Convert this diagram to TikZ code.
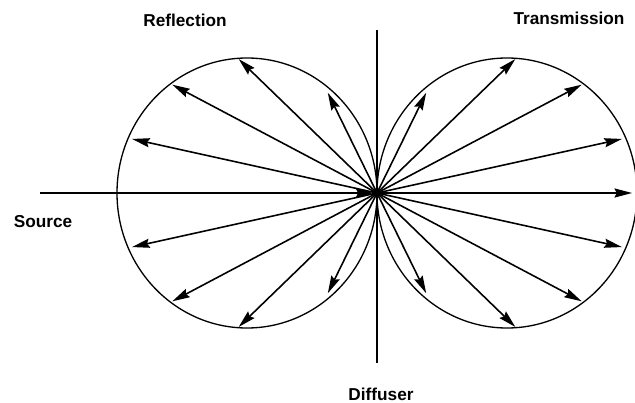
\documentclass[tikz,border=0pt]{standalone}
\usepackage{fontspec}
\setmainfont{Liberation Sans}
\usetikzlibrary{arrows.meta}

\begin{document}
\begin{tikzpicture}[x=0.02cm, y=0.02cm,
    >={Stealth[length=10pt, width=5.2pt, inset=1.3pt]},
    raio/.style={->, line width=0.9pt},
    rotulo/.style={font=\fontsize{9.8}{12}\selectfont\bfseries, anchor=base, inner sep=0pt}]
        % Variáveis base (em pixels da figura)
        \def\ra{130}  % semi-eixo horizontal dos lóbulos
        \def\rb{135}  % semi-eixo vertical dos lóbulos

        \useasboundingbox (-377,-209) rectangle (258,193);

        % Ponto de incidência no difusor
        \coordinate (D) at (0,0);
        \coordinate (src) at (-337,0);
        \coordinate (difT) at (0,163);
        \coordinate (difB) at (0,-170);

        % Lóbulos de reflexão e transmissão
        \draw[line width=0.75pt] (-\ra,0) ellipse ({\ra} and {\rb});
        \draw[line width=0.75pt] (\ra,0) ellipse ({\ra} and {\rb});

        % Difusor e feixe incidente
        \draw[line width=1.4pt] (difT) -- (difB);
        \draw[->, line width=1.4pt, shorten >=2pt] (src) -- (D);

        % Raios refletidos
        \foreach \p/\s in {24/4, 54/2, 86/1, 126/10, -24/4, -54/2, -86/1, -126/10}
            \draw[raio, shorten >={\s*0.567pt}] (D) -- ({-\ra*(1+cos(\p))}, {\rb*sin(\p)});

        % Raios transmitidos
        \foreach \p/\s in {0/5, 24/4, 54/2, 86/1, 126/10, -24/4, -54/2, -86/1, -126/10}
            \draw[raio, shorten >={\s*0.567pt}] (D) -- ({\ra*(1+cos(\p))}, {\rb*sin(\p)});

        % Legendas
        \node[rotulo] (reflection) at (-192,166) {Reflection};
        \node[rotulo] (transmission) at (192,168) {Transmission};
        \node[rotulo] (source) at (-334,-34) {Source};
        \node[rotulo] (diffuser) at (4,-207) {Diffuser};

    \end{tikzpicture}
\end{document}
